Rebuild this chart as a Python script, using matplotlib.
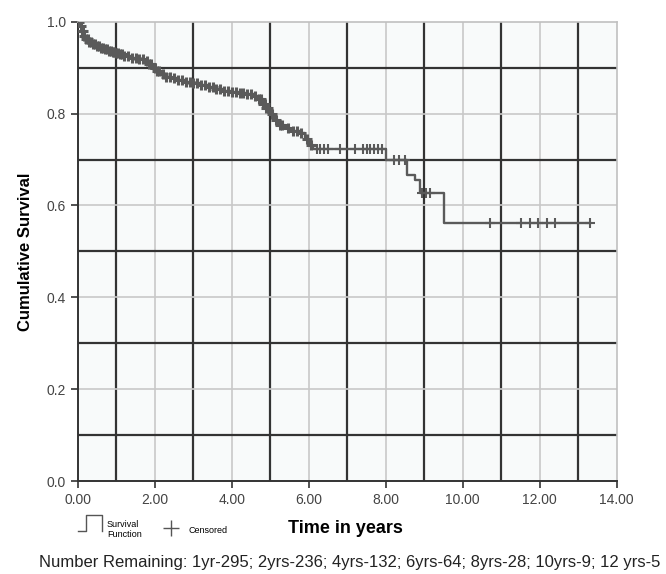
import matplotlib
matplotlib.use("Agg")
import matplotlib.pyplot as plt
import numpy as np
from matplotlib.lines import Line2D
from matplotlib.legend_handler import HandlerBase

plt.rcParams["font.family"] = ["Liberation Sans", "DejaVu Sans"]

# survival steps (time in years, survival after the step)
step_t = [0, 0.05, 0.1, 0.15, 0.2, 0.3, 0.4, 0.5, 0.6, 0.7, 0.8, 0.9, 1.0, 1.1,
          1.2, 1.4, 1.6, 1.75, 1.85, 1.95, 2.05, 2.15, 2.3, 2.45, 2.6, 2.8, 3.0,
          3.2, 3.4, 3.6, 3.8, 4.0, 4.2, 4.4, 4.6, 4.7, 4.8, 4.9, 5.0, 5.1, 5.2,
          5.35, 5.5, 5.8, 5.9, 6.0, 6.1, 8.0, 8.55, 8.75, 8.9, 9.5]
step_s = [1.0, 0.99, 0.98, 0.97, 0.963, 0.957, 0.952, 0.947, 0.943, 0.94, 0.937,
          0.934, 0.932, 0.929, 0.925, 0.922, 0.92, 0.915, 0.908, 0.900, 0.893,
          0.886, 0.880, 0.877, 0.874, 0.870, 0.866, 0.862, 0.858, 0.853, 0.850,
          0.848, 0.846, 0.842, 0.838, 0.832, 0.822, 0.812, 0.800, 0.787, 0.776,
          0.768, 0.762, 0.757, 0.745, 0.732, 0.722, 0.70, 0.667, 0.655, 0.627,
          0.562]
end_t = 13.3

censor_t = [0.03, 0.07, 0.1, 0.13, 0.17, 0.2, 0.25, 0.3, 0.35, 0.4, 0.45, 0.5,
            0.55, 0.6, 0.65, 0.7, 0.75, 0.8, 0.85, 0.9, 0.95, 1.0, 1.05, 1.1,
            1.15, 1.2, 1.3, 1.4, 1.5, 1.6, 1.7, 1.8, 1.85, 1.9, 2.0, 2.05, 2.1,
            2.2, 2.3, 2.4, 2.5, 2.6, 2.7, 2.8, 2.9, 3.0, 3.1, 3.2, 3.3, 3.4,
            3.5, 3.6, 3.7, 3.8, 3.9, 4.0, 4.1, 4.2, 4.3, 4.4, 4.5, 4.6, 4.7,
            4.75, 4.8, 4.85, 4.9, 4.95, 5.05, 5.15, 5.25, 5.3, 5.45, 5.6, 5.7,
            5.8, 5.95, 6.05, 6.2, 6.3, 6.4, 6.5, 6.8, 7.2, 7.4, 7.5, 7.6, 7.7,
            7.8, 7.9, 8.2, 8.35, 8.5, 8.95, 9.05, 9.15, 10.7, 11.5, 11.75,
            11.95, 12.2, 12.4, 13.3]

remaining = "Number Remaining: 1yr-295; 2yrs-236; 4yrs-132; 6yrs-64; 8yrs-28; 10yrs-9; 12 yrs-5"

curve_col = "#5a5a5a"


class StepHandler(HandlerBase):
    def create_artists(self, legend, orig_handle, x0, y0, width, height, fontsize, trans):
        xa = x0 + width * 0.35
        xs = [x0, xa, xa, x0 + width, x0 + width]
        ys = [y0 - height * 0.2, y0 - height * 0.2, y0 + height * 1.0,
              y0 + height * 1.0, y0 - height * 0.2]
        return [Line2D(xs, ys, color="#555555", lw=1.0, transform=trans)]


fig = plt.figure(figsize=(6.66, 5.74), dpi=100)
ax = fig.add_axes([0.117, 0.162, 0.809, 0.800])
ax.set_facecolor("#f8fafa")

# grid: dark at odd years / odd tenths, light at even
for x in range(1, 14, 2):
    ax.axvline(x, color="#333333", lw=1.6, zorder=1)
for x in range(2, 14, 2):
    ax.axvline(x, color="#c8c8c8", lw=1.2, zorder=1)
for y in [0.1, 0.3, 0.5, 0.7, 0.9]:
    ax.axhline(y, color="#333333", lw=1.6, zorder=1)
for y in [0.2, 0.4, 0.6, 0.8]:
    ax.axhline(y, color="#c8c8c8", lw=1.2, zorder=1)

t_all = step_t + [end_t]
s_all = step_s + [step_s[-1]]
ax.step(t_all, s_all, where="post", color=curve_col, lw=1.7, zorder=3)

idx = np.searchsorted(step_t, censor_t, side="right") - 1
censor_s = np.array(step_s)[idx]
censor_t = np.array(censor_t)
dense = censor_t < 6.1
ax.plot(censor_t[dense], censor_s[dense], "+", color=curve_col, ms=7, mew=2.2, zorder=4)
ax.plot(censor_t[~dense], censor_s[~dense], "+", color=curve_col, ms=7, mew=1.5, zorder=4)

ax.set_xlim(0, 14)
ax.set_ylim(0, 1.0)
ax.set_xticks(np.arange(0, 15, 2))
ax.set_xticklabels([f"{v:.2f}" for v in np.arange(0, 15, 2)])
ax.set_yticks(np.arange(0, 1.01, 0.2))
ax.set_yticklabels([f"{v:.1f}" for v in np.arange(0, 1.01, 0.2)])
ax.tick_params(length=5, width=1.2, color="#333333", labelsize=10, labelcolor="#444444")

for side in ["top", "right"]:
    ax.spines[side].set_color("#c0c0c0")
    ax.spines[side].set_linewidth(1.2)
for side in ["left", "bottom"]:
    ax.spines[side].set_color("#333333")
    ax.spines[side].set_linewidth(1.4)

ax.set_ylabel("Cumulative Survival", fontsize=12, fontweight="bold", labelpad=10)
fig.text(0.518, 0.080, "Time in years", fontsize=13, fontweight="bold", ha="center", va="center")

h_surv = Line2D([], [], color="#555555")
h_cens = Line2D([], [], ls="none", marker="+", color="#555555", ms=11, mew=1.0)
fig.legend([h_surv, h_cens], ["Survival\nFunction", "Censored"],
           handler_map={h_surv: StepHandler()}, loc="center left",
           bbox_to_anchor=(0.105, 0.078), ncol=2, frameon=False, fontsize=6.5,
           handlelength=2.6, handleheight=2.0, handletextpad=0.6,
           columnspacing=2.0)

fig.text(0.058, 0.02, remaining, fontsize=12, color="#222222", ha="left", va="center")

fig.savefig("out.png", dpi=100)
